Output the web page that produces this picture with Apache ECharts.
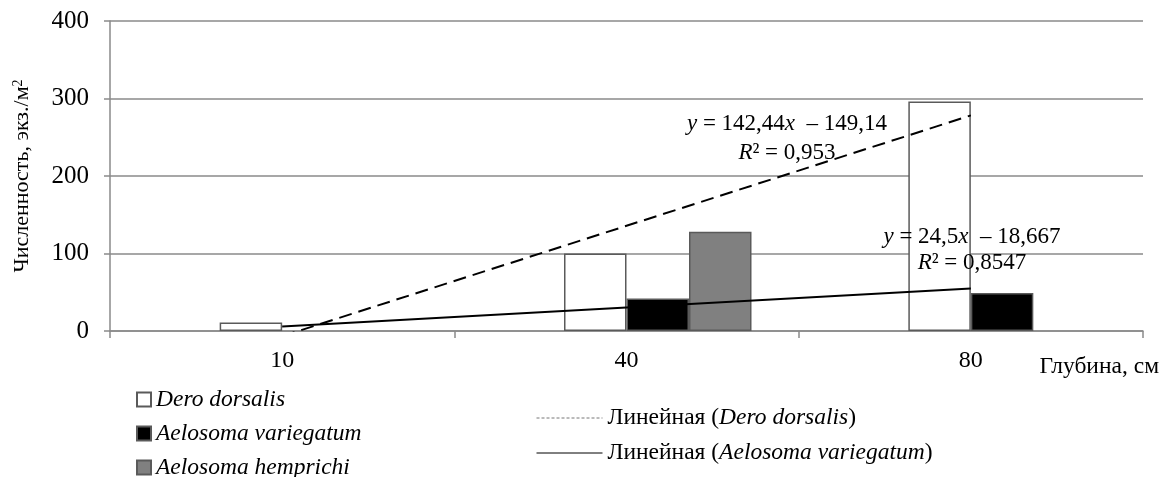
<!DOCTYPE html>
<html>
<head>
<meta charset="utf-8">
<script src="https://cdn.jsdelivr.net/npm/echarts@6/dist/echarts.min.js"></script>
<style>
  html, body { margin: 0; padding: 0; background: #fff; }
  #chart { width: 1162px; height: 477px; }
</style>
</head>
<body>
<div id="chart"></div>
<script>
// Depth categories (cm)
const categories = ['10', '40', '80'];

// Abundance, ind./m²
const deroDorsalis = [11, 100, 296];
const aelosomaVariegatum = [0, 42, 49];
const aelosomaHemprichi = [0, 128, 0];

// Linear trends: y = slope * x + intercept, x = category number (1, 2, 3)
const trendNames = ['Dero dorsalis', 'Aelosoma variegatum'];
const trendSlope = [142.44, 24.5];
const trendIntercept = [-149.14, -18.667];
const trendR2 = [0.953, 0.8547];

// Value axis
const yMin = 0, yMax = 400, yStep = 100;

const FONT = '"Liberation Serif", "Times New Roman", serif';
const GRID_GRAY = '#8a8a8a';
const LEGEND_SIZE = 23.5;

const noZero = arr => arr.map(v => (v === 0 ? '-' : v));
const trendValues = i => categories.map((_, k) => trendSlope[i] * (k + 1) + trendIntercept[i]);
const num = v => String(v).replace('.', ',');

const chart = echarts.init(document.getElementById('chart'), null, { renderer: 'canvas' });

const barNames = ['Dero dorsalis', 'Aelosoma variegatum', 'Aelosoma hemprichi'];
const lineNames = trendNames.map(n => 'Линейная (' + n + ')');

function equationText(i) {
  const sign = trendIntercept[i] < 0 ? '–' : '+';
  return '{i|y} = ' + num(trendSlope[i]) + '{i|x}  ' + sign + ' ' + num(Math.abs(trendIntercept[i])) +
    '\n{i|R}² = ' + num(trendR2[i]);
}

const eqRich = {
  i: { fontFamily: FONT, fontStyle: 'italic', fontSize: 23, color: '#000' }
};

const hiddenMarker = { color: 'rgba(0,0,0,0)', borderWidth: 0 };
const BAR_W = 62.5;

const option = {
  backgroundColor: '#fff',
  animation: false,
  textStyle: { fontFamily: FONT, color: '#000' },
  grid: { left: 110, right: 18, top: 21, bottom: 146, containLabel: false },
  legend: [
    {
      orient: 'vertical',
      left: 136,
      top: 388,
      height: 100,
      padding: 0,
      data: barNames,
      icon: 'rect',
      itemWidth: 14,
      itemHeight: 14,
      itemGap: 11,
      selectedMode: false,
      formatter: name => '{i|' + name + '}',
      textStyle: {
        fontFamily: FONT, fontSize: LEGEND_SIZE, lineHeight: 22, color: '#000',
        rich: { i: { fontFamily: FONT, fontStyle: 'italic', fontSize: LEGEND_SIZE, lineHeight: 22, color: '#000' } }
      }
    },
    {
      orient: 'vertical',
      left: 536,
      top: 406,
      height: 80,
      padding: 0,
      data: [
        { name: lineNames[0], lineStyle: { width: 1, type: [3, 2], color: '#777' }, itemStyle: hiddenMarker },
        { name: lineNames[1], lineStyle: { width: 1, type: 'solid', color: '#000' }, itemStyle: hiddenMarker }
      ],
      itemWidth: 66,
      itemHeight: 10,
      itemGap: 11,
      selectedMode: false,
      formatter: name => name.replace(/^(Линейная \()(.*)(\))$/, '{n|$1}{i|$2}{n|)}'),
      textStyle: {
        fontFamily: FONT, fontSize: LEGEND_SIZE, lineHeight: 22, color: '#000',
        rich: {
          n: { fontFamily: FONT, fontSize: LEGEND_SIZE, fontStyle: 'normal', lineHeight: 22, color: '#000' },
          i: { fontFamily: FONT, fontSize: LEGEND_SIZE, fontStyle: 'italic', lineHeight: 22, color: '#000' }
        }
      }
    }
  ],
  xAxis: {
    type: 'category',
    data: categories,
    boundaryGap: true,
    axisLine: { show: true, lineStyle: { color: GRID_GRAY, width: 1.5 } },
    axisTick: { show: true, interval: 0, length: 7, lineStyle: { color: GRID_GRAY, width: 1.5 } },
    axisLabel: { fontFamily: FONT, fontSize: 24, color: '#000', margin: 18 },
    name: 'Глубина, см',
    nameLocation: 'end',
    nameGap: 16,
    nameTextStyle: { fontFamily: FONT, fontSize: 23.5, color: '#000', align: 'right', verticalAlign: 'top', padding: [24, 0, 0, 0] }
  },
  yAxis: {
    type: 'value',
    min: yMin,
    max: yMax,
    interval: yStep,
    axisLine: { show: true, lineStyle: { color: GRID_GRAY, width: 1.5 } },
    axisTick: { show: true, length: 6, lineStyle: { color: GRID_GRAY, width: 1.5 } },
    splitLine: { show: true, lineStyle: { color: GRID_GRAY, width: 1.5 } },
    axisLabel: { fontFamily: FONT, fontSize: 25, color: '#000', margin: 21 },
    name: '{a|Численность, экз./м}{s|2}',
    nameLocation: 'middle',
    nameRotate: 90,
    nameGap: 77,
    nameTextStyle: {
      rich: {
        a: { fontFamily: FONT, fontSize: 22, color: '#000' },
        s: { fontFamily: FONT, fontSize: 14, color: '#000', verticalAlign: 'top' }
      }
    }
  },
  series: [
    // empty first slot of each cluster
    { name: 'pad', type: 'bar', data: categories.map(() => '-'), barGap: '0%', barWidth: BAR_W },
    {
      name: barNames[0], type: 'bar', data: noZero(deroDorsalis), barGap: '0%', barWidth: BAR_W,
      itemStyle: { color: '#ffffff', borderColor: '#5a5a5a', borderWidth: 1.5 }
    },
    {
      name: barNames[1], type: 'bar', data: noZero(aelosomaVariegatum), barGap: '0%', barWidth: BAR_W,
      itemStyle: { color: '#000000', borderColor: '#5a5a5a', borderWidth: 1.5 }
    },
    {
      name: barNames[2], type: 'bar', data: noZero(aelosomaHemprichi), barGap: '0%', barWidth: BAR_W,
      itemStyle: { color: '#808080', borderColor: '#5a5a5a', borderWidth: 1.5 }
    },
    {
      name: lineNames[0], type: 'line', data: trendValues(0), symbol: 'none', clip: true, z: 5,
      lineStyle: { color: '#000', width: 2, type: [13, 7] }, itemStyle: { color: '#000' }
    },
    {
      name: lineNames[1], type: 'line', data: trendValues(1), symbol: 'none', clip: true, z: 5,
      lineStyle: { color: '#000', width: 2, type: 'solid' }, itemStyle: { color: '#000' }
    }
  ],
  graphic: [
    {
      type: 'text', x: 787, y: 109, z: 10,
      style: {
        text: equationText(0), align: 'center', verticalAlign: 'top', font: '23px ' + FONT, fill: '#000',
        lineHeight: 29, rich: eqRich
      }
    },
    {
      type: 'text', x: 972, y: 224, z: 10,
      style: {
        text: equationText(1), align: 'center', verticalAlign: 'top', font: '23px ' + FONT, fill: '#000',
        lineHeight: 26, rich: eqRich
      }
    }
  ]
};

chart.setOption(option);
</script>
</body>
</html>
